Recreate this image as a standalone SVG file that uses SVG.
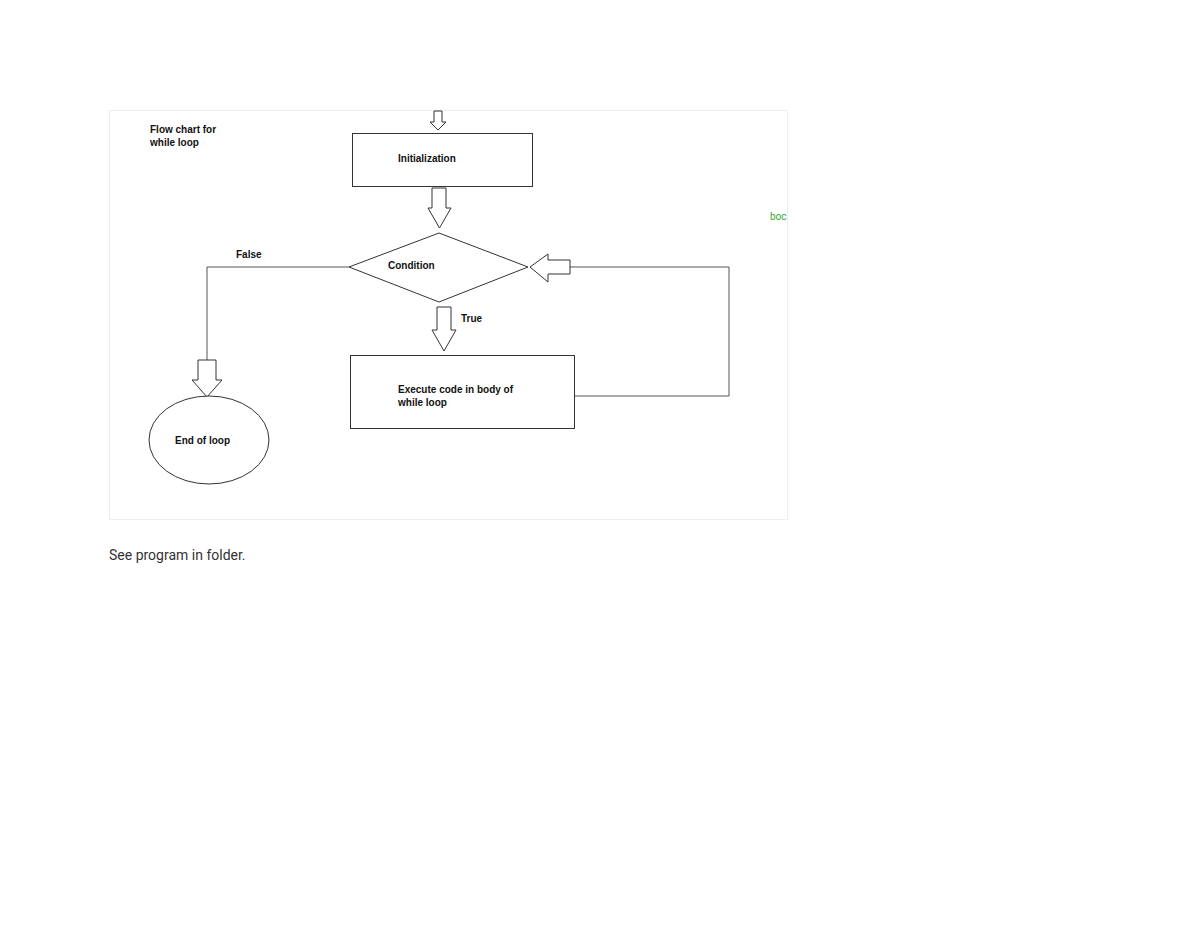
<svg xmlns="http://www.w3.org/2000/svg" width="1200" height="927" viewBox="0 0 1200 927">
<style>
.s{fill:#fff;stroke:#333;stroke-width:1}
.b{font-family:"Liberation Sans",Arial,sans-serif;font-weight:bold;font-size:10px;fill:#111}
.l{fill:none;stroke:#555;stroke-width:1}
</style>
<rect width="1200" height="927" fill="#fff"/>
<rect x="109.5" y="110.5" width="678" height="409" fill="none" stroke="#eee"/>
<text class="b" x="150" y="133">Flow chart for</text>
<text class="b" x="150" y="146">while loop</text>
<text x="770" y="220" font-family="Roboto,sans-serif" font-size="10" fill="#3a3">boc</text>
<g id="connectors">
<path class="l" d="M349 267H207V360" stroke="#bbb"/>
<path class="l" d="M575 396H729V267H570"/>
<path class="s" d="M434 111V122H430L438 130L446 122H442V111Z"/>
<path class="s" d="M432 188V208H428L439.5 228L451 208H446V188Z"/>
<path class="s" d="M530 267L548 254V260H570V274H548V282Z"/>
<path class="s" d="M437 307V330H432L444 351L456 330H451V307Z"/>
<path class="s" d="M198 360V380H192L207 397L222 380H216V360Z"/>
<text class="b" x="236" y="258">False</text>
<text class="b" x="461" y="322">True</text>
</g>
<g id="init"><rect class="s" x="352.5" y="133.5" width="180" height="53"/><text class="b" x="398" y="162">Initialization</text></g>
<g id="cond"><path class="s" d="M439 233L528 267L439 302L349 267Z"/><text class="b" x="388" y="269">Condition</text></g>
<g id="exec"><rect class="s" x="350.5" y="355.5" width="224" height="73"/><text class="b" x="398" y="393">Execute code in body of</text><text class="b" x="398" y="406">while loop</text></g>
<g id="end"><ellipse class="s" cx="209" cy="440" rx="60" ry="44"/><text class="b" x="175" y="444">End of loop</text></g>
<text x="109" y="560" font-family="Roboto,sans-serif" font-size="14" fill="#333">See program in folder.</text>
</svg>
